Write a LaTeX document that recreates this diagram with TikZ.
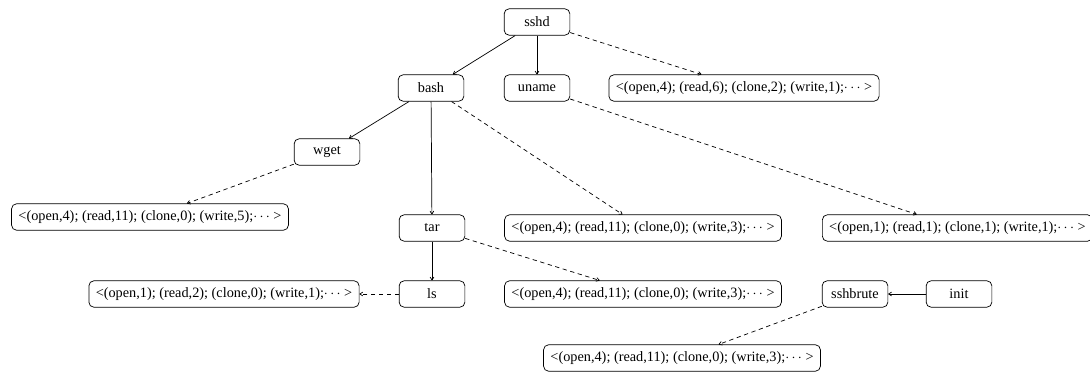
\documentclass[tikz,border=0pt]{standalone}
\usepackage{fontspec}
\setmainfont{Liberation Serif}
\usetikzlibrary{arrows.meta}
\begin{document}
\begin{tikzpicture}[x=0.7pt,y=-0.7pt,
  font=\fontsize{10}{12}\selectfont,
  proc/.style={draw,rounded corners=3.5pt,minimum width=46pt,minimum height=18.5pt,inner sep=2pt,line width=0.5pt},
  info/.style={draw,rounded corners=3.5pt,minimum height=18.5pt,inner xsep=4.8pt,inner ysep=2pt,line width=0.5pt},
  tree/.style={-{To[length=2.5pt,width=3pt]},line width=0.5pt},
  feat/.style={-{To[length=2.5pt,width=3pt]},dashed,dash pattern=on 3pt off 2.5pt,line width=0.5pt}]
\useasboundingbox (0,0) rectangle (1090,374);
\node[proc] (sshd) at (537,22) {sshd};
\node[proc] (bash) at (431,88) {bash};
\node[proc] (uname) at (537,88) {uname};
\node[info] (isshd) at (744,88) {<(open,4); (read,6); (clone,2); (write,1);$\cdots$ >};
\node[proc] (wget) at (327,152) {wget};
\node[info] (iwget) at (150,217) {<(open,4); (read,11); (clone,0); (write,5);$\cdots$ >};
\node[proc] (tar) at (432,228) {tar};
\node[info] (ibash) at (643,228) {<(open,4); (read,11); (clone,0); (write,3);$\cdots$ >};
\node[info,anchor=west] (iuname) at (822,228) {<(open,1); (read,1); (clone,1); (write,1);$\cdots$ >};
\node[proc] (ls) at (432,294) {ls};
\node[info] (ils) at (224,294) {<(open,1); (read,2); (clone,0); (write,1);$\cdots$ >};
\node[info] (itar) at (643,294) {<(open,4); (read,11); (clone,0); (write,3);$\cdots$ >};
\node[proc] (sshbrute) at (855,294) {sshbrute};
\node[proc] (init) at (959,294) {init};
\node[info] (isshbrute) at (682,358) {<(open,4); (read,11); (clone,0); (write,3);$\cdots$ >};
\draw[tree] (sshd) -- (bash);
\draw[tree] (sshd) -- (uname);
\draw[feat] (sshd) -- (isshd);
\draw[feat] (uname) -- (iuname);
\draw[tree] (bash) -- (wget);
\draw[tree] (bash) -- (tar);
\draw[feat] (bash) -- (ibash);
\draw[feat] (wget) -- (iwget);
\draw[tree] (tar) -- (ls);
\draw[feat] (tar) -- (itar);
\draw[feat] (ls) -- (ils);
\draw[tree] (init) -- (sshbrute);
\draw[feat] (sshbrute) -- (isshbrute);
\end{tikzpicture}
\end{document}
